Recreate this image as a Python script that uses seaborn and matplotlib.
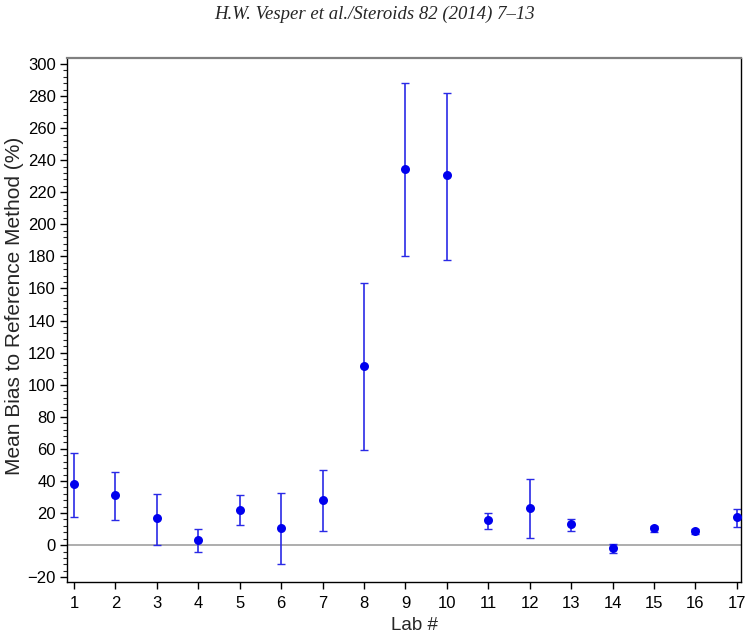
import matplotlib
matplotlib.use("Agg")
import matplotlib.pyplot as plt
from matplotlib.ticker import MultipleLocator
import seaborn as sns
import pandas as pd

labs = list(range(1, 18))
mean_bias = [38, 31, 16.6, 3.3, 22, 10.6, 28, 111.7, 234.6, 230.8, 15.6, 23.3, 13.1, -1.9, 10.6, 8.7, 17.3]
upper = [57.6, 45.5, 31.8, 10.2, 31.2, 32.4, 46.8, 163.4, 288.0, 282.0, 19.8, 41.0, 16.2, 0.6, 12.0, 10.0, 22.3]
lower = [17.5, 15.6, 0.0, -4.6, 12.3, -11.9, 8.5, 59.3, 180.3, 177.8, 10.2, 4.2, 8.9, -5.2, 7.9, 6.9, 11.0]
y_ticks = list(range(-20, 301, 20))

df = pd.DataFrame({"lab": labs, "bias": mean_bias, "hi": upper, "lo": lower})

sns.set_style("white")
plt.rcParams['font.family'] = ['Liberation Sans', 'DejaVu Sans']

fig = plt.figure(figsize=(7.5, 6.38), dpi=100)
ax = fig.add_axes([67/750, 1 - 582/638, (741 - 67)/750, (582 - 58)/638])

ax.axhline(0, color="#a0a0a0", lw=1.2, zorder=1)

yerr = [df["bias"] - df["lo"], df["hi"] - df["bias"]]
ax.errorbar(df["lab"], df["bias"], yerr=yerr, fmt="none", ecolor="#2a2ae6",
            elinewidth=1.2, capsize=3, capthick=1.0, zorder=2)
sns.scatterplot(data=df, x="lab", y="bias", ax=ax, color="#0000ee", s=42,
                edgecolor="#0000ee", linewidth=0, zorder=3, legend=False)

ax.set_xlim(0.83, 17.1)
ax.set_ylim(-23, 303.7)
ax.set_xticks(labs)
ax.set_yticks(y_ticks)
ax.yaxis.set_minor_locator(MultipleLocator(4))
ax.tick_params(axis="both", which="major", direction="out", length=5, width=1,
               labelsize=12, colors="black", left=True, bottom=True)
ax.tick_params(axis="y", which="minor", direction="out", length=3, width=0.8, left=True)
ax.tick_params(axis="x", pad=5)
ax.tick_params(axis="y", pad=3)

for side in ["left", "bottom", "right"]:
    ax.spines[side].set_color("black")
    ax.spines[side].set_linewidth(1.0)
ax.spines["top"].set_color("#808080")
ax.spines["top"].set_linewidth(1.6)

ax.set_xlabel("Lab #", fontsize=13.5)
ax.xaxis.set_label_coords((414.5 - 67) / 674, -(617 - 582) / 524)
ax.set_ylabel("Mean Bias to Reference Method (%)", fontsize=15)
ax.yaxis.set_label_coords(-(67 - 24) / 674, (582 - 306) / 524)

fig.text(0.5, 1 - 14/638, "H.W. Vesper et al./Steroids 82 (2014) 7–13",
         ha="center", va="center", fontsize=13.5, style="italic",
         family=["Liberation Serif", "DejaVu Serif"])

fig.savefig("out.png", dpi=100)
